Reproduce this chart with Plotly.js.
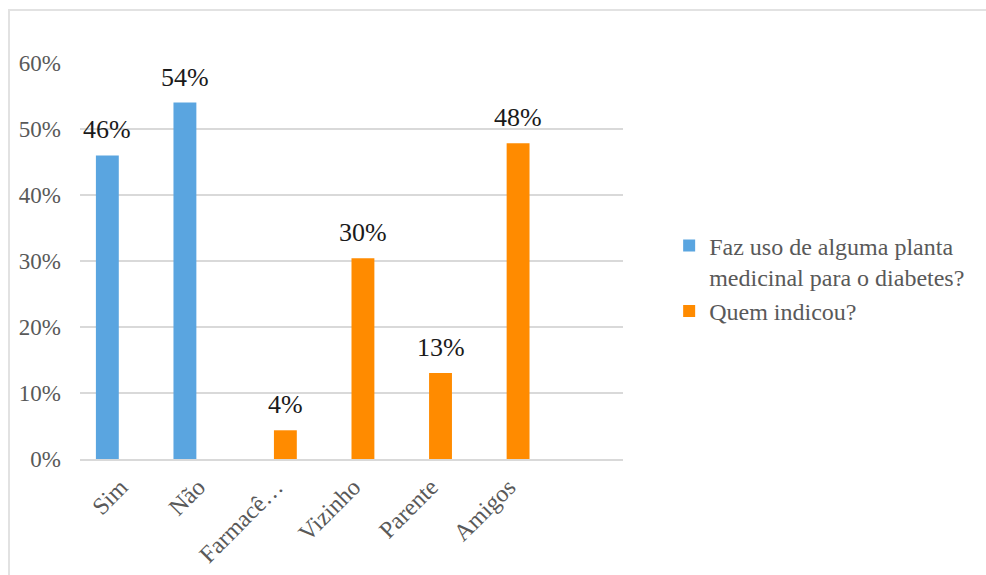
<!DOCTYPE html>
<html>
<head>
<meta charset="utf-8">
<script src="https://cdn.plot.ly/plotly-3.0.1.min.js"></script>
<style>
  html, body { margin: 0; padding: 0; background: #fff; }
  #wrap { position: relative; width: 986px; height: 575px; overflow: hidden; }
  #chart { position: absolute; left: 0; top: 0; width: 986px; height: 575px; }
  #frame { position: absolute; left: 8px; top: 9px; width: 990px; height: 580px;
           border-left: 2px solid #e2e2e2; border-top: 2px solid #e2e2e2; pointer-events: none; }
</style>
</head>
<body>
<div id="wrap">
  <div id="chart"></div>
  <div id="frame"></div>
</div>
<script>
// Categories along the x axis
const categories = ["Sim", "Não", "Farmacê…", "Vizinho", "Parente", "Amigos"];

// Series 1: uses a medicinal plant for diabetes (percent)
const usoNames = "Faz uso de alguma planta<br>medicinal para o diabetes?";
const usoValues = [46, 54, null, null, null, null];

// Series 2: who recommended it (percent)
const indicouName = "Quem indicou?";
const indicouValues = [null, null, 4.35, 30.43, 13.04, 47.83];

const serif = "Times New Roman, Liberation Serif, DejaVu Serif, serif";
const blue = "#5aa5e0";
const orange = "#ff8b00";

const traces = [
  { type: "bar", name: usoNames, x: categories, y: usoValues,
    marker: { color: blue }, hoverinfo: "skip" },
  { type: "bar", name: indicouName, x: categories, y: indicouValues,
    marker: { color: orange }, hoverinfo: "skip" }
];

// Value labels above each bar, offset to the bar's slot inside its group
const plotWidth = 986 - 80 - 363;
const nSlots = 7;
const bargap = 0.41;
const barPx = (plotWidth / nSlots) * (1 - bargap) / 2;
const annotations = [];
[usoValues, indicouValues].forEach((vals, ti) => {
  vals.forEach((v, i) => {
    if (v === null) return;
    annotations.push({
      x: categories[i], y: v, xref: "x", yref: "y",
      xshift: (ti === 0 ? -1 : 1) * barPx / 2, yshift: 9,
      yanchor: "bottom", xanchor: "center", showarrow: false,
      text: Math.round(v) + "%",
      font: { family: serif, size: 26, color: "#1a1a1a" }
    });
  });
});

const layout = {
  width: 986, height: 575,
  margin: { l: 80, r: 363, t: 63, b: 116 },
  paper_bgcolor: "#fff", plot_bgcolor: "#fff",
  barmode: "group", bargap: bargap, bargroupgap: 0,
  font: { family: serif, color: "#595959" },
  xaxis: {
    type: "category", range: [-0.5, nSlots - 0.5],
    tickangle: -45, ticks: "", showgrid: false,
    showline: true, linecolor: "#d9d9d9", linewidth: 1.5,
    tickfont: { family: serif, size: 24, color: "#595959" },
    ticklabelstandoff: 3, ticklabelshift: 2, fixedrange: true
  },
  yaxis: {
    range: [0, 60], dtick: 10, ticksuffix: "%",
    showgrid: true, gridcolor: "#d9d9d9", gridwidth: 1.5,
    zeroline: false, showline: false, ticks: "",
    tickfont: { family: serif, size: 23, color: "#595959" },
    ticklabelstandoff: 18, fixedrange: true
  },
  legend: {
    x: 1.085, xanchor: "left", y: 0.595, yanchor: "top",
    font: { family: serif, size: 24, color: "#595959" },
    valign: "top", itemwidth: 30, tracegroupgap: 10,
    bgcolor: "rgba(0,0,0,0)"
  },
  showlegend: true,
  annotations: annotations
};

Plotly.newPlot("chart", traces, layout, { displayModeBar: false, staticPlot: true });
</script>
</body>
</html>
